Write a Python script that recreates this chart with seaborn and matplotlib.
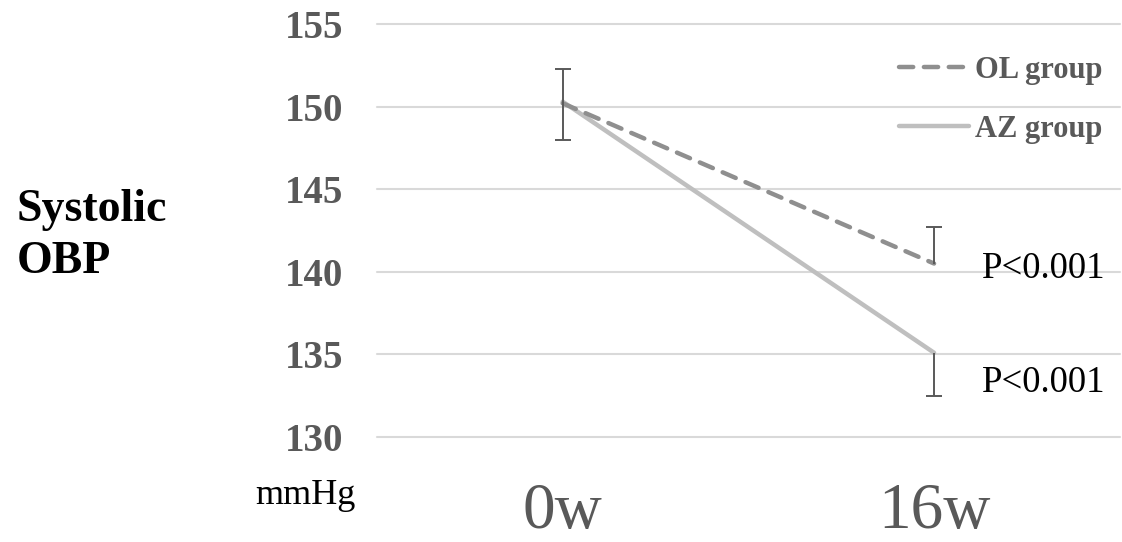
import matplotlib
matplotlib.use("Agg")
import matplotlib.pyplot as plt
import seaborn as sns
import pandas as pd

# Systolic office blood pressure, mean values per visit
weeks = ["0w", "16w"]
ol_mean = [150.2, 140.5]
az_mean = [150.3, 135.1]
# error bar ends drawn in the chart
baseline_low, baseline_high = 148.0, 152.3
ol_upper_16w = 142.7
az_lower_16w = 132.5
p_labels = ["P<0.001", "P<0.001"]
p_label_y = [140.2, 133.3]
y_ticks = [130, 135, 140, 145, 150, 155]

sns.set_theme(style="white")
plt.rcParams["font.family"] = ["Liberation Serif", "DejaVu Serif"]

GRAY_TXT = "#595959"
OL_COLOR = "#8f8f8f"
AZ_COLOR = "#bfbfbf"
ERR_COLOR = "#595959"
OL_DASH = (0, (3.2, 2.4))

df = pd.DataFrame({
    "week": weeks * 2,
    "sbp": ol_mean + az_mean,
    "group": ["OL group"] * 2 + ["AZ group"] * 2,
})

fig = plt.figure(figsize=(11.22, 5.42), dpi=100)
ax = fig.add_axes([377 / 1122, 1 - 437 / 542, 1 - 377 / 1122 - 0.002, (437 - 24) / 542])

sns.lineplot(data=df[df.group == "AZ group"], x="week", y="sbp", ax=ax,
             color=AZ_COLOR, lw=3.2, label="AZ group", sort=False,
             solid_capstyle="round")
sns.lineplot(data=df[df.group == "OL group"], x="week", y="sbp", ax=ax,
             color=OL_COLOR, lw=3.2, label="OL group", sort=False)
ol_line = ax.lines[-1]
ol_line.set_linestyle(OL_DASH)
ol_line.set_dash_capstyle("round")

err_kw = dict(fmt="none", ecolor=ERR_COLOR, elinewidth=1.4, capsize=6,
              capthick=1.4, zorder=5)

# baseline error bar (shared by both groups)
base_mid = (ol_mean[0] + az_mean[0]) / 2
ax.errorbar([0], [base_mid],
            yerr=[[base_mid - baseline_low], [baseline_high - base_mid]], **err_kw)

# 16 weeks: upper bar for OL, lower bar for AZ, cap only at the far end
eb_ol = ax.errorbar([1], [ol_mean[1]], yerr=[[0], [ol_upper_16w - ol_mean[1]]], **err_kw)
eb_ol.lines[1][0].set_visible(False)
eb_az = ax.errorbar([1], [az_mean[1]], yerr=[[az_mean[1] - az_lower_16w], [0]], **err_kw)
eb_az.lines[1][1].set_visible(False)

ax.set_xlim(-0.5, 1.5)
ax.set_ylim(130, 155)
ax.set_yticks(y_ticks)
ax.set_xlabel("")
ax.set_ylabel("")
for s in ax.spines.values():
    s.set_visible(False)
ax.grid(axis="y", color="#d9d9d9", lw=1.5)
ax.grid(axis="x", visible=False)
for gl in ax.get_ygridlines():
    gl.set_clip_on(False)

ax.tick_params(axis="y", length=0, pad=24, labelsize=28, labelcolor=GRAY_TXT)
ax.tick_params(axis="x", length=0, pad=33, labelsize=47, labelcolor=GRAY_TXT)
for lbl in ax.get_yticklabels():
    lbl.set_fontweight("bold")

for txt, yv in zip(p_labels, p_label_y):
    ax.text(1.128, yv, txt, fontsize=26.5, color="black", va="center", ha="left")

handles, labels = ax.get_legend_handles_labels()
order = [labels.index("OL group"), labels.index("AZ group")]
leg = ax.legend([handles[i] for i in order], [labels[i] for i in order],
                loc="upper right", bbox_to_anchor=(1.014, 0.99), frameon=False,
                handlelength=2.3, handletextpad=0.2, labelspacing=1.0,
                prop={"family": "Liberation Serif", "weight": "bold", "size": 22})
for t in leg.get_texts():
    t.set_color(GRAY_TXT)
leg.get_lines()[0].set_linestyle(OL_DASH)
leg.get_lines()[0].set_dash_capstyle("round")

fig.text(17 / 1122, 1 - 236 / 542, "Systolic\nOBP", fontsize=33, fontweight="bold",
         color="black", ha="left", va="center", linespacing=1.32)
fig.text(305 / 1122, 1 - 496 / 542, "mmHg", fontsize=26, color="black",
         ha="center", va="center")

fig.savefig("out.png", dpi=100)
